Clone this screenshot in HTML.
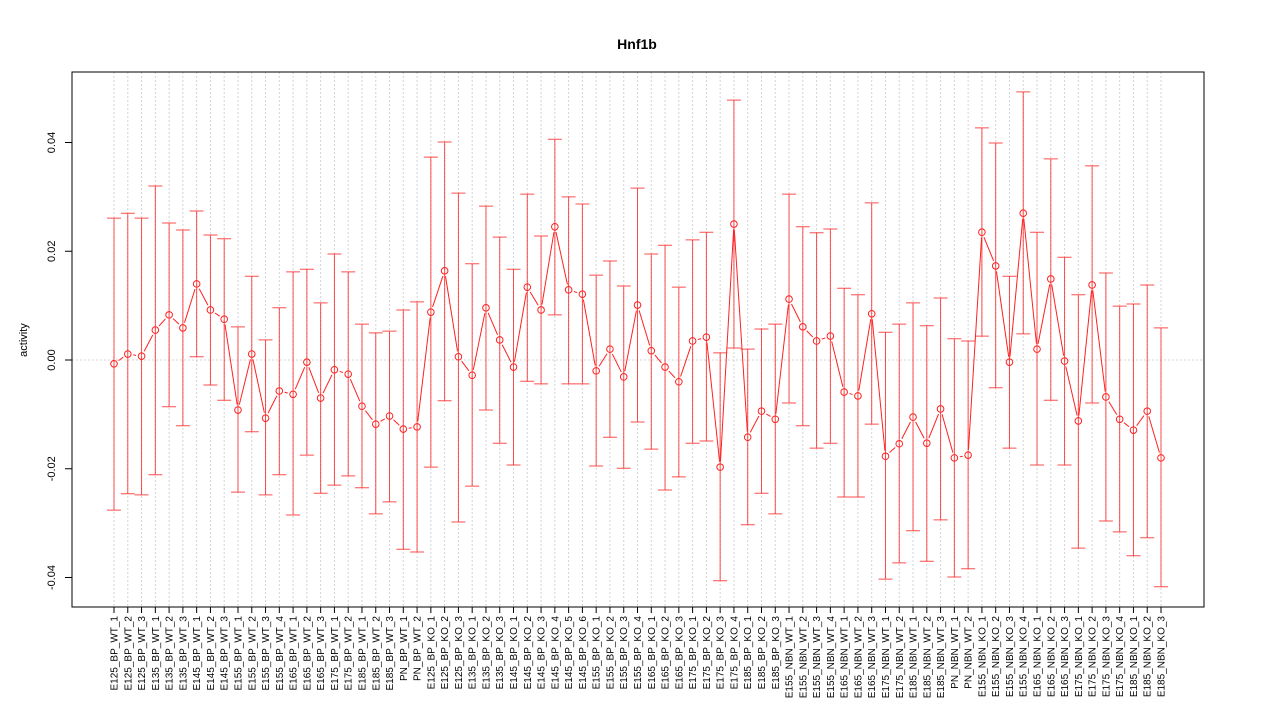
<!DOCTYPE html>
<html><head><meta charset="utf-8"><style>
body{margin:0;background:#fff}
svg{display:block;font-family:"Liberation Sans",sans-serif}
</style></head><body>
<svg id="chart" width="1275" height="720" viewBox="0 0 1275 720" xmlns="http://www.w3.org/2000/svg">
<rect x="0" y="0" width="1275" height="720" fill="#fff"/>
<text x="637" y="49" text-anchor="middle" font-size="14" font-weight="bold">Hnf1b</text>
<text transform="translate(27,340) rotate(-90)" text-anchor="middle" font-size="11">activity</text>
<g id="grid"></g><g id="bars"></g><g id="line"></g><g id="pts"></g><g id="axes"></g>
<rect x="72" y="72" width="1132" height="535" fill="none" stroke="#000" stroke-width="1"/>
</svg>
<script>
const categories=["E125_BP_WT_1","E125_BP_WT_2","E125_BP_WT_3","E135_BP_WT_1","E135_BP_WT_2","E135_BP_WT_3","E145_BP_WT_1","E145_BP_WT_2","E145_BP_WT_3","E155_BP_WT_1","E155_BP_WT_2","E155_BP_WT_3","E155_BP_WT_4","E165_BP_WT_1","E165_BP_WT_2","E165_BP_WT_3","E175_BP_WT_1","E175_BP_WT_2","E185_BP_WT_1","E185_BP_WT_2","E185_BP_WT_3","PN_BP_WT_1","PN_BP_WT_2","E125_BP_KO_1","E125_BP_KO_2","E125_BP_KO_3","E135_BP_KO_1","E135_BP_KO_2","E135_BP_KO_3","E145_BP_KO_1","E145_BP_KO_2","E145_BP_KO_3","E145_BP_KO_4","E145_BP_KO_5","E145_BP_KO_6","E155_BP_KO_1","E155_BP_KO_2","E155_BP_KO_3","E155_BP_KO_4","E165_BP_KO_1","E165_BP_KO_2","E165_BP_KO_3","E175_BP_KO_1","E175_BP_KO_2","E175_BP_KO_3","E175_BP_KO_4","E185_BP_KO_1","E185_BP_KO_2","E185_BP_KO_3","E155_NBN_WT_1","E155_NBN_WT_2","E155_NBN_WT_3","E155_NBN_WT_4","E165_NBN_WT_1","E165_NBN_WT_2","E165_NBN_WT_3","E175_NBN_WT_1","E175_NBN_WT_2","E185_NBN_WT_1","E185_NBN_WT_2","E185_NBN_WT_3","PN_NBN_WT_1","PN_NBN_WT_2","E155_NBN_KO_1","E155_NBN_KO_2","E155_NBN_KO_3","E155_NBN_KO_4","E165_NBN_KO_1","E165_NBN_KO_2","E165_NBN_KO_3","E175_NBN_KO_1","E175_NBN_KO_2","E175_NBN_KO_3","E175_NBN_KO_4","E185_NBN_KO_1","E185_NBN_KO_2","E185_NBN_KO_3"];
const meanVals=[-0.0007,0.0011,0.0007,0.0055,0.0083,0.0059,0.0140,0.0092,0.0075,-0.0092,0.0011,-0.0107,-0.0057,-0.0063,-0.0004,-0.0070,-0.0018,-0.0026,-0.0085,-0.0118,-0.0103,-0.0127,-0.0123,0.0088,0.0164,0.0006,-0.0028,0.0096,0.0037,-0.0013,0.0134,0.0092,0.0245,0.0129,0.0121,-0.0020,0.0020,-0.0031,0.0101,0.0017,-0.0013,-0.0040,0.0035,0.0042,-0.0197,0.0250,-0.0142,-0.0094,-0.0109,0.0112,0.0061,0.0035,0.0044,-0.0059,-0.0066,0.0085,-0.0177,-0.0154,-0.0105,-0.0153,-0.0090,-0.0180,-0.0175,0.0235,0.0173,-0.0004,0.0270,0.0020,0.0149,-0.0002,-0.0112,0.0138,-0.0068,-0.0109,-0.0129,-0.0094,-0.0180];
const upperVals=[0.0261,0.0270,0.0261,0.0320,0.0252,0.0239,0.0274,0.0230,0.0223,0.0061,0.0154,0.0037,0.0096,0.0162,0.0167,0.0105,0.0195,0.0162,0.0066,0.0050,0.0053,0.0092,0.0107,0.0373,0.0401,0.0307,0.0177,0.0283,0.0226,0.0167,0.0305,0.0228,0.0406,0.0300,0.0287,0.0156,0.0182,0.0136,0.0316,0.0195,0.0211,0.0134,0.0221,0.0235,0.0013,0.0478,0.0020,0.0057,0.0066,0.0305,0.0245,0.0234,0.0241,0.0132,0.0120,0.0289,0.0051,0.0066,0.0105,0.0063,0.0114,0.0039,0.0035,0.0427,0.0399,0.0154,0.0493,0.0235,0.0370,0.0189,0.0120,0.0357,0.0160,0.0099,0.0103,0.0138,0.0059];
const lowerVals=[-0.0276,-0.0246,-0.0248,-0.0211,-0.0086,-0.0121,0.0006,-0.0046,-0.0074,-0.0243,-0.0132,-0.0248,-0.0211,-0.0285,-0.0175,-0.0245,-0.0230,-0.0213,-0.0235,-0.0283,-0.0261,-0.0348,-0.0353,-0.0197,-0.0075,-0.0298,-0.0232,-0.0092,-0.0153,-0.0193,-0.0039,-0.0044,0.0083,-0.0044,-0.0044,-0.0195,-0.0142,-0.0199,-0.0114,-0.0164,-0.0239,-0.0215,-0.0153,-0.0149,-0.0406,0.0022,-0.0303,-0.0245,-0.0283,-0.0079,-0.0121,-0.0162,-0.0153,-0.0252,-0.0252,-0.0118,-0.0403,-0.0373,-0.0314,-0.0370,-0.0294,-0.0399,-0.0384,0.0044,-0.0051,-0.0162,0.0048,-0.0193,-0.0074,-0.0193,-0.0346,-0.0079,-0.0296,-0.0316,-0.0360,-0.0327,-0.0417];
const yTicks=[-0.04,-0.02,0,0.02,0.04];
const yTickLabels=["-0.04","-0.02","0.00","0.02","0.04"];

const NS="http://www.w3.org/2000/svg";
function xScale(i){return 114+i*(1161-114)/(categories.length-1);}
function yScale(v){return 360-v*5437.5;}
function mk(tag,attrs,parent){const e=document.createElementNS(NS,tag);for(const k in attrs)e.setAttribute(k,attrs[k]);parent.appendChild(e);return e;}
const grid=document.getElementById('grid'),bars=document.getElementById('bars'),line=document.getElementById('line'),pts=document.getElementById('pts'),axes=document.getElementById('axes');
const RED="#ff2020";
categories.forEach((c,i)=>{
  const x=xScale(i);
  const g=mk('line',{x1:x,x2:x,y1:72,y2:607,stroke:'#d3d3d3','stroke-dasharray':'2,2','stroke-width':1},grid);
  
  
  const yu=yScale(upperVals[i]),yl=yScale(lowerVals[i]);
  const b=mk('path',{d:`M${x},${yu}V${yl}M${x-7},${yu}H${x+7}M${x-7},${yl}H${x+7}`,stroke:RED,'stroke-opacity':0.8,fill:'none','stroke-width':1},bars);
  
  
  const p=mk('circle',{cx:x,cy:yScale(meanVals[i]),r:3.3,fill:'none',stroke:RED,'stroke-width':1},pts);
  
  
  if(i<categories.length-1){
    const x2=xScale(i+1),y1=yScale(meanVals[i]),y2=yScale(meanVals[i+1]);
    const dx=x2-x,dy=y2-y1,L=Math.hypot(dx,dy),gap=5.5;
    if(L>2*gap){
      const s=mk('line',{x1:x+dx*gap/L,y1:y1+dy*gap/L,x2:x2-dx*gap/L,y2:y2-dy*gap/L,stroke:RED,'stroke-width':1},line);
      
      
    }
  }
  const t=mk('line',{x1:x,x2:x,y1:607,y2:613,stroke:'#000'},axes);
  
  
  const lb=mk('text',{transform:`translate(${x+3.5},616) rotate(-90)`,'text-anchor':'end','font-size':10},axes);
  
  
  lb.textContent=c;
});
const zl=mk('line',{x1:72,x2:1204,y1:yScale(0),y2:yScale(0),stroke:'#d3d3d3','stroke-dasharray':'2,2'},grid);


yTicks.forEach((v,k)=>{
  const y=yScale(v);
  const t=mk('line',{x1:65,x2:72,y1:y,y2:y,stroke:'#000'},axes);
  
  
  const lb=mk('text',{transform:`translate(55,${y}) rotate(-90)`,'text-anchor':'middle','font-size':11},axes);
  
  
  lb.textContent=yTickLabels[k];
});
</script>
</body></html>
